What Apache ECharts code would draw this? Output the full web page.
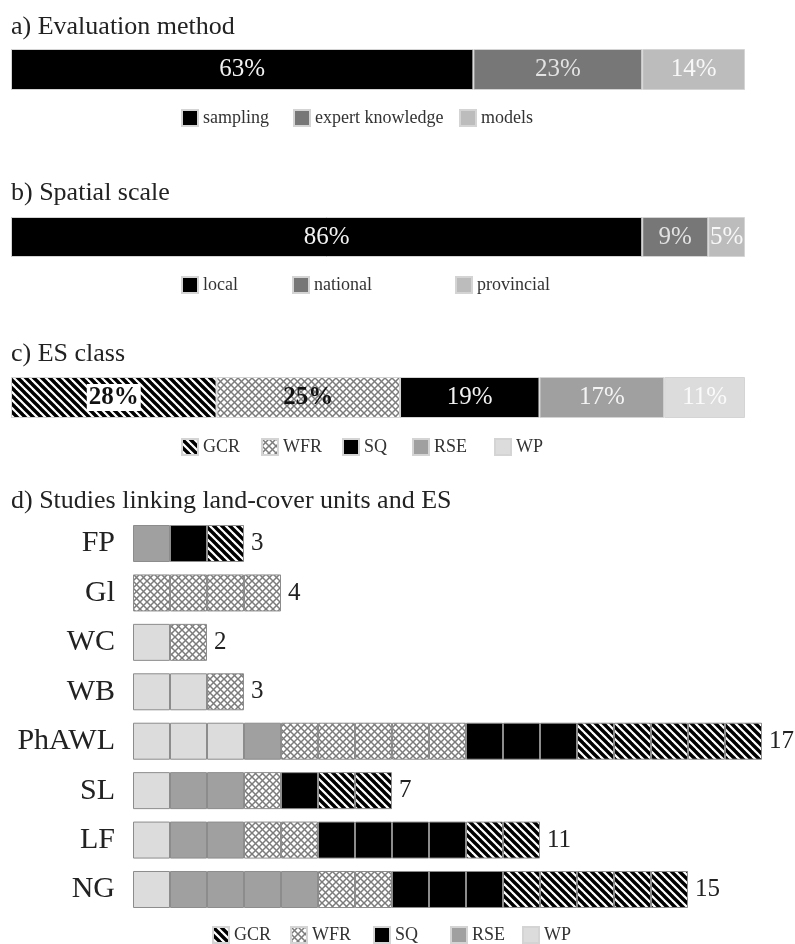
<!DOCTYPE html>
<html><head><meta charset="utf-8">
<script src="https://cdn.jsdelivr.net/npm/echarts@6/dist/echarts.min.js"></script>
<style>html,body{margin:0;padding:0;background:#fff}#c{width:795px;height:944px}</style>
</head><body><div id="c"></div>
<script>
// ---- data ----
const methodNames = ['sampling', 'expert knowledge', 'models'];
const methodValues = [63, 23, 14];
const scaleNames = ['local', 'national', 'provincial'];
const scaleValues = [86, 9, 5];
const esNames = ['GCR', 'WFR', 'SQ', 'RSE', 'WP'];
const esValues = [28, 25, 19, 17, 11];
const landCovers = ['FP', 'Gl', 'WC', 'WB', 'PhAWL', 'SL', 'LF', 'NG'];
const countWP  = [0, 0, 1, 2, 3, 1, 1, 1];
const countRSE = [1, 0, 0, 0, 1, 2, 2, 4];
const countWFR = [0, 4, 1, 1, 5, 1, 2, 2];
const countSQ  = [1, 0, 0, 0, 3, 1, 4, 3];
const countGCR = [1, 0, 0, 0, 5, 2, 2, 5];

// ---- styles ----
const FONT = '"Liberation Serif","Times New Roman",serif';
function stripeCanvas() {
  const c = document.createElement('canvas'); c.width = 8; c.height = 8;
  const g = c.getContext('2d');
  g.fillStyle = '#fff'; g.fillRect(0, 0, 8, 8);
  g.strokeStyle = '#000'; g.lineWidth = 3.4;
  for (const k of [-8, 0, 8]) { g.beginPath(); g.moveTo(-2, k - 2); g.lineTo(10, k + 10); g.stroke(); }
  return c;
}
function crossCanvas() {
  const s = 7;
  const c = document.createElement('canvas'); c.width = s; c.height = s;
  const g = c.getContext('2d');
  g.fillStyle = '#fff'; g.fillRect(0, 0, s, s);
  g.strokeStyle = '#7c7c7c'; g.lineWidth = 1.5;
  for (const k of [-s, 0, s]) {
    g.beginPath(); g.moveTo(-2, k - 2); g.lineTo(s + 2, k + s + 2); g.stroke();
    g.beginPath(); g.moveTo(-2, k + s + 2); g.lineTo(s + 2, k - 2); g.stroke();
  }
  return c;
}
const stripe = { image: stripeCanvas(), repeat: 'repeat' };
const cross = { image: crossCanvas(), repeat: 'repeat' };
const esColor = { GCR: stripe, WFR: cross, SQ: '#000', RSE: '#a0a0a0', WP: '#dcdcdc' };
const methodColors = ['#000', '#777', '#bcbcbc'];
const methodLabelColors = ['#f2f2f2', '#e2e2e2', '#f8f8f8'];
const scaleColors = ['#000', '#777', '#bcbcbc'];
const scaleLabelColors = ['#f2f2f2', '#e2e2e2', '#f8f8f8'];
const esLabel = {
  GCR: { color: '#111', fontWeight: 'bold', backgroundColor: '#fff', padding: [1, 2] },
  WFR: { color: '#111', fontWeight: 'bold' },
  SQ: { color: '#f2f2f2' }, RSE: { color: '#f4f4f4' }, WP: { color: '#fafafa' }
};

const UNIT = 37.0;
const grids = [
  { left: 11, right: 50, top: 49, height: 41 },
  { left: 11, right: 50, top: 217, height: 40 },
  { left: 11, right: 50, top: 377, height: 41 },
  { left: 133, right: 795 - 133 - 17 * UNIT, top: 518.8, height: 395.4 }
];
const xAxes = [0, 1, 2].map(i => ({ gridIndex: i, type: 'value', min: 0, max: 100, show: false }));
xAxes.push({ gridIndex: 3, type: 'value', min: 0, max: 17, show: false });
const yAxes = [0, 1, 2].map(i => ({ gridIndex: i, type: 'category', data: ['all'], show: false }));
yAxes.push({
  gridIndex: 3, type: 'category', data: landCovers, inverse: true,
  axisLine: { show: false }, axisTick: { show: false },
  axisLabel: { fontSize: 30, color: '#222', margin: 18, fontFamily: FONT }
});

const series = [];
function pctSeries(names, values, colors, labelStyles, idx, bw) {
  names.forEach((n, i) => {
    series.push({
      name: n, type: 'bar', stack: 'p' + idx, xAxisIndex: idx, yAxisIndex: idx, barWidth: bw,
      data: [values[i]],
      itemStyle: { color: colors[i], borderColor: '#d4d4d4', borderWidth: 1 },
      label: Object.assign({ show: true, position: 'inside', formatter: '{c}%', fontSize: 25, fontFamily: FONT }, labelStyles[i])
    });
  });
}
pctSeries(methodNames, methodValues, methodColors, methodLabelColors.map(c => ({ color: c })), 0, 41);
pctSeries(scaleNames, scaleValues, scaleColors, scaleLabelColors.map(c => ({ color: c })), 1, 40);
pctSeries(esNames, esValues, esNames.map(n => esColor[n]), esNames.map(n => esLabel[n]), 2, 41);

// panel d: one cell per study
const seqs = landCovers.map((_, i) => [].concat(
  Array(countWP[i]).fill('WP'), Array(countRSE[i]).fill('RSE'), Array(countWFR[i]).fill('WFR'),
  Array(countSQ[i]).fill('SQ'), Array(countGCR[i]).fill('GCR')));
const maxLen = Math.max(...seqs.map(s => s.length));
for (let j = 0; j < maxLen; j++) {
  series.push({
    name: 'cell' + j, type: 'bar', stack: 'd', xAxisIndex: 3, yAxisIndex: 3, barWidth: 37,
    itemStyle: { borderColor: '#8c8c8c', borderWidth: 1 },
    data: seqs.map(seq => {
      if (j >= seq.length) return '-';
      const item = { value: 1, itemStyle: { color: esColor[seq[j]] } };
      if (j === seq.length - 1) item.label = { show: true, position: 'right', distance: 7, formatter: String(seq.length), fontSize: 25, color: '#222', fontFamily: FONT };
      return item;
    })
  });
}

// legends, one per item
const legends = [];
function addLegends(names, lefts, cy) {
  names.forEach((n, i) => legends.push({
    data: [n], left: lefts[i], top: cy - 9, padding: 0, icon: 'rect', itemWidth: 16, itemHeight: 16,
    selectedMode: false, textStyle: { fontSize: 18, color: '#333', fontFamily: FONT }
  }));
}
addLegends(methodNames, [181, 293, 459], 118);
addLegends(scaleNames, [181, 292, 455], 285);
addLegends(esNames, [181, 261, 342, 412, 494], 447);
addLegends(esNames, [212, 290, 373, 450, 522], 935);

const titleStyle = { fontSize: 26, fontWeight: 'normal', color: '#222', fontFamily: FONT };
const titles = [
  ['a) Evaluation method', 14], ['b) Spatial scale', 180], ['c) ES class', 341],
  ['d) Studies linking land-cover units and ES', 488]
].map(([t, top]) => ({ text: t, left: 11, top: top, padding: 0, textStyle: titleStyle }));

const chart = echarts.init(document.getElementById('c'), null, { renderer: 'canvas' });
chart.setOption({
  animation: false, backgroundColor: '#fff',
  title: titles, legend: legends, grid: grids, xAxis: xAxes, yAxis: yAxes, series: series
});
</script></body></html>
